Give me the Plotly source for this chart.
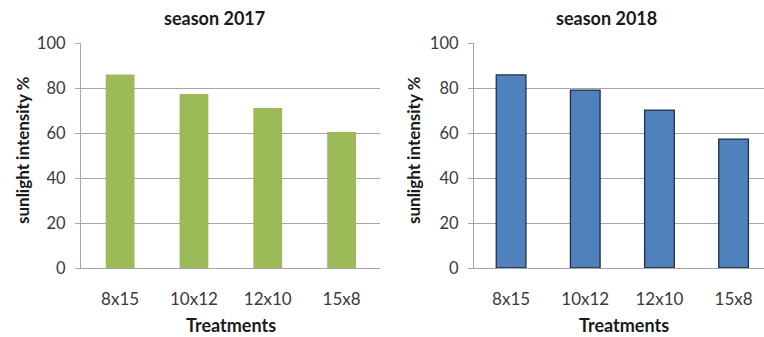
import plotly.graph_objects as go

treatments = ["8x15", "10x12", "12x10", "15x8"]
season_2017 = [86, 77.3, 71.1, 60.4]
season_2018 = [85.8, 79.1, 70.2, 57.3]
y_ticks = [0, 20, 40, 60, 80, 100]
titles = ["season 2017", "season 2018"]
y_title = "sunlight intensity %"
x_title = "Treatments"

W, H = 764, 337
FONT = "Lato"
TXT = "#3A3A3A"
GRID = "#A6A6A6"

def px(x):
    return x / W

def py(y):
    return 1 - y / H

fig = go.Figure()
fig.add_trace(go.Bar(x=treatments, y=season_2017, marker=dict(color="#9BBB59", line=dict(width=0)),
                     xaxis="x", yaxis="y", width=0.39))
fig.add_trace(go.Bar(x=treatments, y=season_2018, marker=dict(color="#4F81BD", line=dict(color="#1E2F46", width=1.3)),
                     xaxis="x2", yaxis="y2", width=0.40))

ydom = [py(268), py(43)]
common_y = dict(range=[0, 100], tickvals=y_ticks, showgrid=True, gridcolor=GRID, gridwidth=1.3,
                showline=True, linecolor=GRID, linewidth=1.3, ticks="outside", ticklen=5,
                tickcolor=GRID, tickwidth=1.3, zeroline=False, ticklabelstandoff=6,
                tickfont=dict(family=FONT, size=16.5, color=TXT), domain=ydom, fixedrange=True)
common_x = dict(type="category", showgrid=False, showline=True, linecolor=GRID, linewidth=1.3,
                ticks="", zeroline=False, ticklabelstandoff=15,
                tickfont=dict(family=FONT, size=17, color=TXT))

fig.update_layout(
    width=W, height=H, margin=dict(l=0, r=0, t=0, b=0, autoexpand=False),
    paper_bgcolor="white", plot_bgcolor="white", showlegend=False,
    xaxis=dict(common_x, domain=[px(81), px(380)], range=[-0.53, 3.52], anchor="y"),
    yaxis=dict(common_y, anchor="x"),
    xaxis2=dict(common_x, domain=[px(474), 1.0], range=[-0.5, 3.41], anchor="y2"),
    yaxis2=dict(common_y, anchor="x2"),
)

ann = []
for cx, t in [(215, titles[0]), (606, titles[1])]:
    ann.append(dict(x=px(cx), y=py(18), xref="paper", yref="paper", text="<b>%s</b>" % t,
                    showarrow=False, font=dict(family=FONT, size=18, color="#1A1A1A"),
                    xanchor="center", yanchor="middle"))
for cx in [231, 624]:
    ann.append(dict(x=px(cx), y=py(325), xref="paper", yref="paper", text="<b>%s</b>" % x_title,
                    showarrow=False, font=dict(family=FONT, size=18, color="#1A1A1A"),
                    xanchor="center", yanchor="middle"))
for cx, cy in [(22, 150), (413, 150)]:
    ann.append(dict(x=px(cx), y=py(cy), xref="paper", yref="paper", text="<b>%s</b>" % y_title,
                    showarrow=False, textangle=-90, font=dict(family=FONT, size=17, color="#1A1A1A"),
                    xanchor="center", yanchor="middle"))
fig.update_layout(annotations=ann)

fig.write_html("out.html")
